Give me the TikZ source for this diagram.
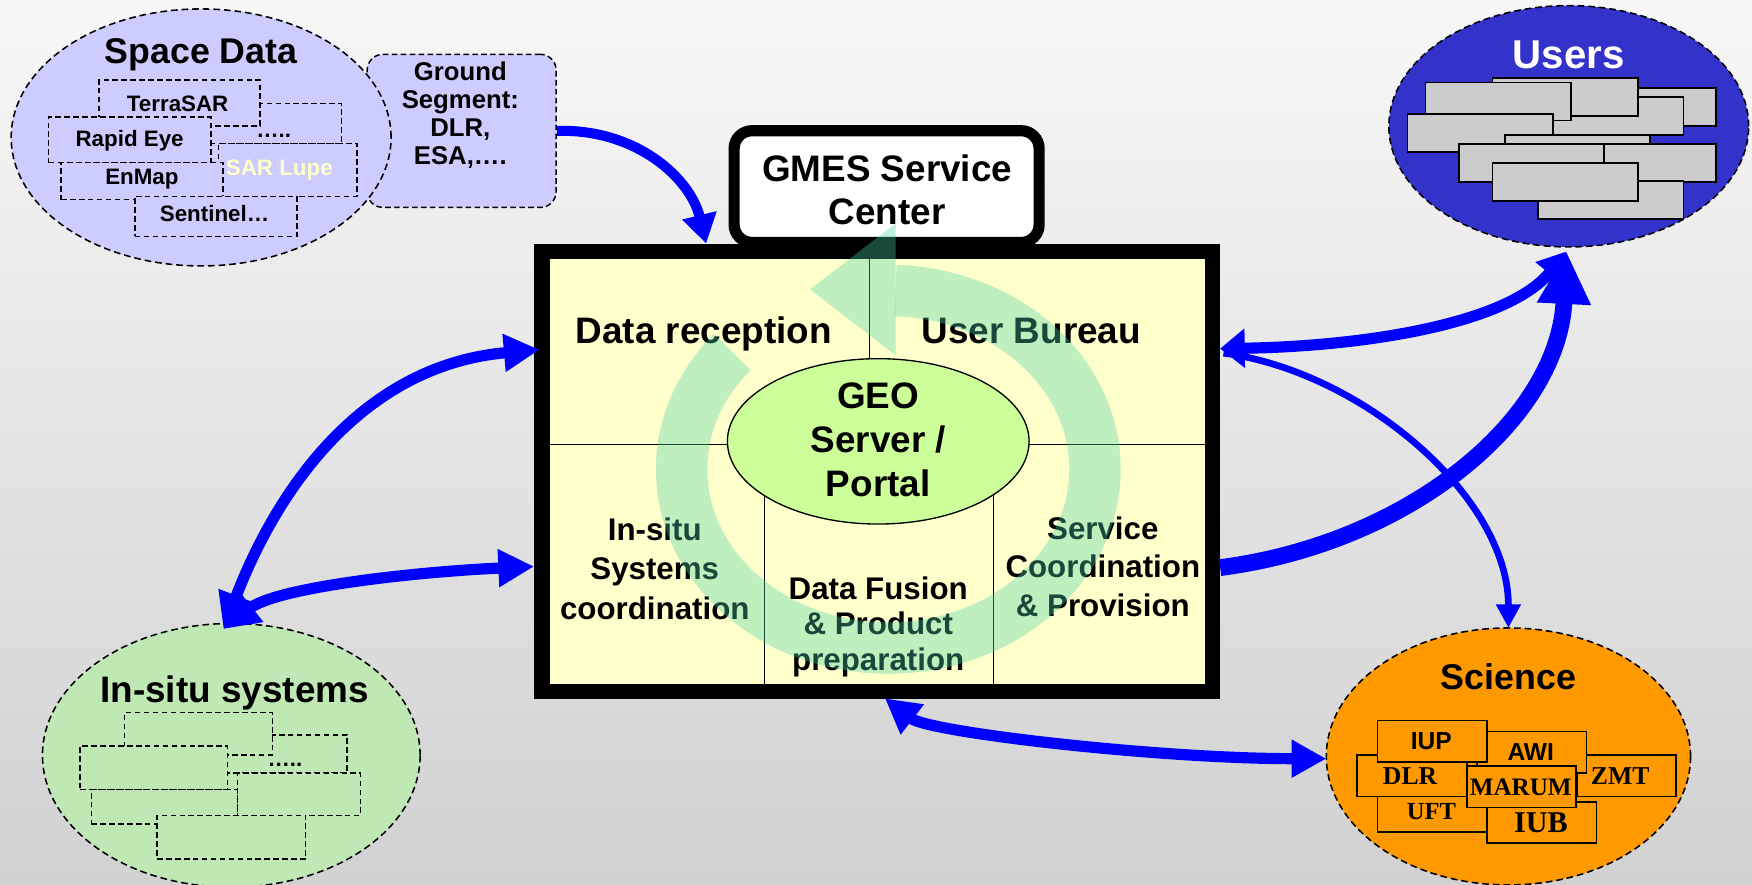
\documentclass[tikz,border=0pt]{standalone}
\usepackage{fontspec}
\setmainfont{Liberation Sans}
\newfontfamily\serifb{Liberation Serif}
\usetikzlibrary{shapes.geometric,arrows.meta}
\definecolor{lav}{HTML}{CCCCFF}
\definecolor{userblue}{HTML}{3333CC}
\definecolor{insitugreen}{HTML}{C0E8B4}
\definecolor{sciorange}{HTML}{FF9900}
\definecolor{paleyellow}{HTML}{FFFFCC}
\definecolor{geogreen}{HTML}{CCFF99}
\definecolor{boxgrey}{HTML}{CCCCCC}
\definecolor{ringgreen}{rgb}{0.29,0.83,0.66}
\definecolor{arrowblue}{HTML}{0000FF}
\newcommand{\fsz}[2]{\fontsize{#1}{#2}\selectfont}
\begin{document}
\begin{tikzpicture}[x=1pt,y=-1pt,
  bgell/.style={ellipse, draw, dash pattern=on 6pt off 3.5pt, line width=1.4pt, inner sep=0pt},
  dbox/.style={draw, dash pattern=on 5pt off 3pt, line width=1.3pt, inner sep=0pt, anchor=north west},
  gbox/.style={draw, line width=1.5pt, fill=boxgrey, inner sep=0pt, anchor=north west, minimum width=130pt, minimum height=34pt},
  sbox/.style={draw, line width=1.5pt, fill=sciorange, inner sep=0pt, anchor=north west},
  itxt/.style={font=\bfseries\fsz{20}{24}, anchor=base, inner sep=0pt},
  barrow/.style={draw=arrowblue},
]
\useasboundingbox (0,0) rectangle (1568,792);
\shade[top color=black!3, bottom color=black!18] (0,0) rectangle (1568,792);

% ---------------- Space data ----------------
\node[dbox, fill=lav, rounded corners=14pt, minimum width=169pt, minimum height=137pt] (ground) at (328,48) {};
\node[font=\bfseries\fsz{23}{25}, align=center] (groundt) at (412,103) {Ground\\Segment:\\DLR,\\ESA,….};
\node[bgell, fill=lav, minimum width=340pt, minimum height=230pt] (space) at (180,123) {};
\node[font=\bfseries\fsz{32}{36}, anchor=base] (spacet) at (180,57) {Space Data};
\node[dbox, fill=lav, minimum width=118pt, minimum height=36pt] (sdots) at (187,92) {};
\node[itxt] (sdotst) at (245,123) {…..};
\node[dbox, fill=lav, minimum width=144pt, minimum height=41pt] (terra) at (88,71) {};
\node[itxt] (terrat) at (159,100) {TerraSAR};
\node[dbox, fill=lav, minimum width=124pt, minimum height=47pt] (lupe) at (195,128) {};
\node[itxt, text=paleyellow] (lupet) at (250,157) {SAR Lupe};
\node[dbox, fill=lav, minimum width=145pt, minimum height=41pt] (rapid) at (43,104) {};
\node[itxt] (rapidt) at (116,131) {Rapid Eye};
\node[dbox, fill=lav, minimum width=145pt, minimum height=33pt] (enmap) at (54,145) {};
\node[itxt] (enmapt) at (127,165) {EnMap};
\node[dbox, fill=lav, minimum width=145pt, minimum height=36pt] (sentinel) at (120,175) {};
\node[itxt] (sentinelt) at (192,198) {Sentinel…};

% ---------------- Users ----------------
\node[bgell, fill=userblue, minimum width=322pt, minimum height=216pt] (users) at (1404,113) {};
\node[font=\bfseries\fsz{36}{40}, text=white, anchor=base] (userst) at (1404,61) {Users};
\node[gbox] (ub) at (1405,78) {};
\node[gbox] (uc) at (1376,86) {};
\node[gbox] (ua) at (1335,69) {};
\node[gbox] (ud) at (1275,73) {};
\node[gbox] (ue) at (1259,101) {};
\node[gbox] (uk) at (1346,120) {};
\node[gbox] (uh) at (1405,128) {};
\node[gbox] (ug) at (1305,128) {};
\node[gbox] (ui) at (1376,161) {};
\node[gbox] (uj) at (1335,145) {};

% ---------------- In-situ ----------------
\node[bgell, fill=insitugreen, minimum width=338pt, minimum height=236pt] (insitu) at (207,676) {};
\node[font=\bfseries\fsz{33}{37}, anchor=base] (insitut) at (210,629) {In-situ systems};
\node[dbox, fill=insitugreen, minimum width=110pt, minimum height=34pt] (ib) at (200,657) {};
\node[itxt] (ibt) at (255,686) {…..};
\node[dbox, fill=insitugreen, minimum width=132pt, minimum height=38pt] (ia) at (111,637) {};
\node[dbox, fill=insitugreen, minimum width=132pt, minimum height=39pt] (ic) at (71,667) {};
\node[dbox, fill=insitugreen, minimum width=131pt, minimum height=31pt] (ie) at (81,706) {};
\node[dbox, fill=insitugreen, minimum width=110pt, minimum height=38pt] (id) at (212,691) {};
\node[dbox, fill=insitugreen, minimum width=133pt, minimum height=39pt] (if) at (140,729) {};

% ---------------- Science ----------------
\node[bgell, fill=sciorange, minimum width=326pt, minimum height=230pt] (science) at (1350,677) {};
\node[font=\bfseries\fsz{32}{36}, anchor=base] (sciencet) at (1350,617) {Science};
\node[sbox, minimum width=88pt, minimum height=37pt] (zmt) at (1411,675) {};
\node[font=\serifb\bfseries\fsz{23}{26}, anchor=base] at (1450,702) {ZMT};
\node[sbox, minimum width=98pt, minimum height=37pt] (awi) at (1321,654) {};
\node[font=\bfseries\fsz{22}{26}, anchor=base] at (1370,681) {AWI};
\node[sbox, minimum width=98pt, minimum height=37pt] (dlr) at (1214,675) {};
\node[font=\serifb\bfseries\fsz{23}{26}, anchor=base] at (1262,702) {DLR};
\node[sbox, minimum width=98pt, minimum height=37pt] (iup) at (1232,644) {};
\node[font=\bfseries\fsz{22}{26}, anchor=base] at (1281,671) {IUP};
\node[sbox, minimum width=98pt, minimum height=32pt] (uft) at (1232,712) {};
\node[font=\serifb\bfseries\fsz{22}{26}, anchor=base] at (1281,733) {UFT};
\node[sbox, minimum width=98pt, minimum height=37pt] (iub) at (1330,717) {};
\node[font=\serifb\bfseries\fsz{27}{30}, anchor=base] at (1379,745) {IUB};
\node[sbox, minimum width=98pt, minimum height=37pt] (marum) at (1312,685) {};
\node[font=\serifb\bfseries\fsz{22.5}{26}, anchor=base] at (1361,712) {MARUM};

% ---------------- Central frame ----------------
\node[draw, line width=14pt, fill=paleyellow, minimum width=600pt, minimum height=394pt, inner sep=0pt] (frame) at (785,422) {};
\node[draw, line width=10pt, fill=white, rounded corners=16pt, minimum width=273pt, minimum height=100pt, inner sep=0pt] (gmes) at (793.5,167) {};
\node[font=\bfseries\fsz{33}{38}, align=center] (gmest) at (794,170) {GMES Service\\Center};
\draw[line width=1.2pt] (778,232) -- (778,340);
\draw[line width=1.2pt] (492,398) -- (700,398);
\draw[line width=1.2pt] (870,398) -- (1078,398);
\draw[line width=1.2pt] (684,612) -- (684,420);
\draw[line width=1.2pt] (889,612) -- (889,420);
\node[ellipse, draw, line width=1.2pt, fill=geogreen, minimum width=270pt, minimum height=148pt, inner sep=0pt] (geo) at (786,395) {};
\node[font=\bfseries\fsz{33}{39.5}, align=center] (geot) at (786,393.5) {GEO\\Server /\\Portal};
\node[font=\bfseries\fsz{33}{37}, anchor=base] (drec) at (630,307) {Data reception};
\node[font=\bfseries\fsz{33}{37}, anchor=base] (ubur) at (923,307) {User Bureau};
\node[font=\bfseries\fsz{28}{35}, align=center] (insys) at (586,509) {In-situ\\Systems\\coordination};
\node[font=\bfseries\fsz{28}{32}, align=center] (fusion) at (786,561) {Data Fusion\\\& Product\\preparation};
\node[font=\bfseries\fsz{28}{34.5}, align=center] (servc) at (987,507) {Service\\Coordination\\\& Provision};

% green cycle arrow
\fill[ringgreen, opacity=0.35] (801.5,200) -- (801.5,318) -- (725,259) -- cycle;
\draw[ringgreen, opacity=0.35, line width=46pt] ([shift={(795,420)}]-139:185 and 160) arc[start angle=-139, end angle=-448, x radius=185, y radius=160];

% ---------------- Blue arrows ----------------
\coordinate (tA1) at (632,218);
\coordinate (isTop) at (200,563);
\coordinate (drL) at (483,313);
\coordinate (coL) at (478,507);
\coordinate (ubR) at (1092,312);
\coordinate (ubR2) at (1095,316);
\coordinate (usB) at (1402,225);
\coordinate (scR) at (1092,508);
\coordinate (sciT) at (1350,562);
\coordinate (frB) at (792,625);
\coordinate (sciL) at (1187,679);

\draw[barrow, line width=9pt, -{Triangle[length=26pt,width=30pt]}] (ground.east) .. controls (570,115) and (618,160) .. (tA1);
\draw[barrow, line width=10pt, {Triangle[length=32pt,width=32pt]}-{Triangle[length=32pt,width=32pt]}] (isTop) .. controls (254,423) and (334,326) .. (drL);
\draw[barrow, line width=10pt, {Triangle[length=32pt,width=32pt]}-{Triangle[length=32pt,width=32pt]}] (isTop) .. controls (247,526) and (368,512) .. (coL);
\draw[barrow, line width=6pt, -{Triangle[length=21pt,width=21pt]}] (ubR2) .. controls (1220,333) and (1350,445) .. (sciT);
\draw[barrow, line width=10pt, {Triangle[length=22pt,width=34pt]}-{Triangle[length=25pt,width=30pt]}] (ubR) .. controls (1220,310) and (1350,290) .. (usB);
\draw[barrow, line width=15pt, -{Triangle[length=47pt,width=45pt]}] (scR) .. controls (1262,486) and (1394.5,375) .. (usB);
\draw[barrow, line width=10pt, {Triangle[length=31pt,width=32pt]}-{Triangle[length=31pt,width=32pt]}] (frB) .. controls (831.5,655.5) and (1037,679) .. (sciL);
\end{tikzpicture}
\end{document}
